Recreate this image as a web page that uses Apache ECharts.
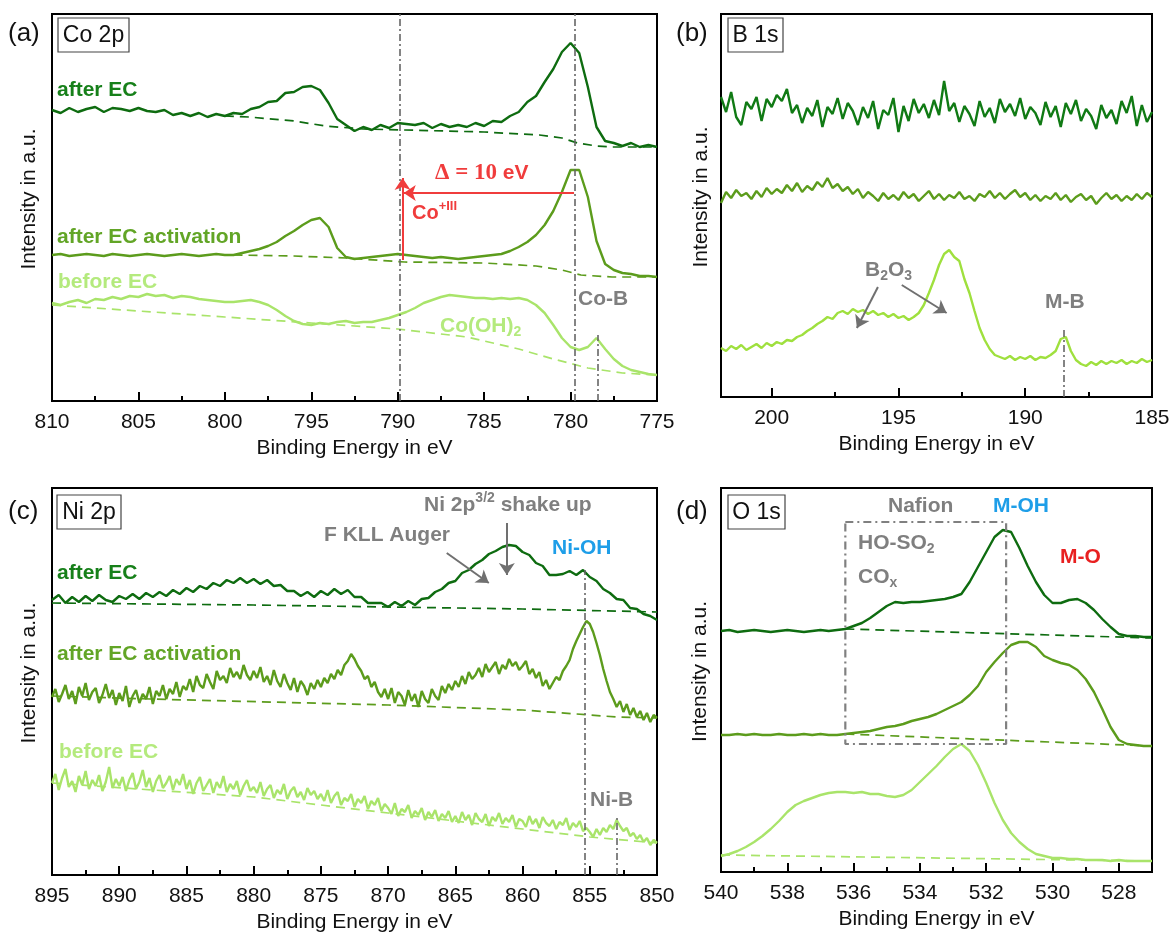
<!DOCTYPE html>
<html><head><meta charset="utf-8">
<script src="https://cdn.jsdelivr.net/npm/echarts@6/dist/echarts.min.js"></script>
<style>html,body{margin:0;padding:0;background:#fff}#c{width:1173px;height:935px}</style>
</head><body><div id="c"></div>
<script>
// ---------- Panel (a) Co 2p ----------
const aEnergy = [810,809.5,809,808.5,808,807.5,807,806.5,806,805.5,
 805,804.5,804,803.5,803,802.5,802,801.5,801,800.5,
 800,799.5,799,798.5,798,797.5,797,796.5,796,795.5,
 795,794.5,794,793.5,793,792.5,792,791.5,791,790.5,
 790,789.5,789,788.5,788,787.5,787,786.5,786,785.5,
 785,784.5,784,783.5,783,782.5,782,781.5,781,780.5,
 780,779.5,779,778.5,778,777.5,777,776.5,776,775.5,
 775];
const aAfterEC = [291,288,293,289,292,294,289,293,292,290,
 293,290,289,291,286,288,285,288,284,287,
 285,288,287,292,294,299,300,308,309,314,
 315,311,298,282,276,270,274,271,276,273,
 278,277,276,278,273,277,274,276,274,278,
 275,280,279,285,289,299,305,319,332,349,
 358,348,314,274,260,258,255,258,254,256,
 254];
const aActivation = [146,147,145,146,147,146,145,147,146,145,
 146,147,146,145,146,147,146,145,146,147,
 146,146,148,150,152,155,159,165,170,176,
 181,183,174,153,144,142,143,144,145,146,
 147,146,145,144,143,144,143,142,143,144,
 145,146,147,150,154,159,166,176,190,209,
 231,231,204,160,137,131,128,127,125,125,
 124];
const aBefore = [98,96,99,101,98,102,101,104,102,105,
 104,107,105,106,103,105,104,102,101,100,
 99,99,100,101,99,96,91,85,80,77,
 76,78,77,79,80,78,79,79,81,83,
 86,89,93,98,101,104,106,105,104,103,
 103,102,103,102,103,101,96,88,76,63,
 54,51,54,63,52,42,35,31,29,27,
 26];
const aBaseAfterEC = [[800,285],[798.6,284],[796,280],[794.2,275],[792,272],[789.6,271],[785,269],[781.8,266],[780.5,263],[779.6,258],[778.5,255],[777.6,254],[775,254]];
const aBaseActivation = [[799.5,146],[796,145],[793,143],[789.6,139],[785,138],[782,135],[780.5,131],[779.4,126],[777.6,124],[775,124]];
const aBaseBefore = [[810,96],[800,84],[795,78],[790,72],[786,64],[783,52],[781,42],[779,33],[777,28],[775,26]];
const aRefLines = [[789.9,0,387],[779.75,0,387],[778.4,0,66]];
const aRedArrows = [[779.8,208,789.65,208],[789.72,141,789.72,223]];
const aTicks = [775,780,785,790,795,800,805,810];
const aMinor = [777.5,782.5,787.5,792.5,797.5,802.5,807.5];

// ---------- Panel (b) B 1s ----------
const bEnergy = [202,201.8,201.6,201.4,201.2,201,200.8,200.6,200.4,200.2,
 200,199.8,199.6,199.4,199.2,199,198.8,198.6,198.4,198.2,
 198,197.8,197.6,197.4,197.2,197,196.8,196.6,196.4,196.2,
 196,195.8,195.6,195.4,195.2,195,194.8,194.6,194.4,194.2,
 194,193.8,193.6,193.4,193.2,193,192.8,192.6,192.4,192.2,
 192,191.8,191.6,191.4,191.2,191,190.8,190.6,190.4,190.2,
 190,189.8,189.6,189.4,189.2,189,188.8,188.6,188.4,188.2,
 188,187.8,187.6,187.4,187.2,187,186.8,186.6,186.4,186.2,
 186,185.8,185.6,185.4,185.2,185];
const bAfterEC = [300,285,305,280,272,295,288,300,276,298,
 290,302,296,308,284,292,274,289,281,297,
 270,290,283,299,278,294,286,272,290,279,
 296,268,287,282,299,265,291,276,298,284,
 293,279,297,282,316,286,294,275,291,283,
 271,296,280,289,274,298,285,293,281,299,
 278,290,284,272,295,280,291,270,294,283,
 297,276,288,281,268,292,279,287,273,296,
 284,301,271,292,275,285];
const bActivation = [194,205,199,207,201,204,198,206,200,209,
 203,208,204,212,206,214,205,211,207,215,
 210,219,209,213,206,210,203,208,199,205,
 201,196,204,198,202,197,205,199,203,196,
 201,206,198,203,197,202,199,205,198,201,
 196,203,200,206,199,204,198,203,207,200,
 204,197,202,196,201,198,204,197,202,195,
 200,203,197,201,193,199,204,198,202,196,
 201,197,203,198,204,200];
const bBefore = [49,46,51,48,52,47,50,53,49,54,
 51,55,53,57,56,60,62,66,69,73,
 76,80,78,84,86,83,88,85,87,83,
 86,82,84,80,83,79,81,77,80,84,
 92,104,117,132,143,147,140,136,118,104,
 86,69,57,48,42,40,38,41,37,40,
 38,41,37,40,39,42,46,58,60,46,
 37,33,31,35,32,36,33,36,34,37,
 33,36,34,38,35,37];
const bRefLines = [[188.5,0,67]];
const bArrows = [[195.81,110,196.64,69],[194.87,112,193.1,84]];
const bTicks = [185,190,195,200];
const bMinor = [187.5,192.5,197.5];

// ---------- Panel (c) Ni 2p ----------
const cEnergy = [895,894.5,894,893.5,893,892.5,892,891.5,891,890.5,
 890,889.5,889,888.5,888,887.5,887,886.5,886,885.5,
 885,884.5,884,883.5,883,882.5,882,881.5,881,880.5,
 880,879.5,879,878.5,878,877.5,877,876.5,876,875.5,
 875,874.5,874,873.5,873,872.5,872,871.5,871,870.5,
 870,869.5,869,868.5,868,867.5,867,866.5,866,865.5,
 865,864.5,864,863.5,863,862.5,862,861.5,861,860.5,
 860,859.5,859,858.5,858,857.5,857,856.5,856,855.5,
 855,854.5,854,853.5,853,852.5,852,851.5,851,850.5,
 850];
const cEnergyFine = [895,894.75,894.5,894.25,894,893.75,893.5,893.25,893,892.75,892.5,892.25,892,891.75,891.5,891.25,891,890.75,890.5,890.25,
 890,889.75,889.5,889.25,889,888.75,888.5,888.25,888,887.75,887.5,887.25,887,886.75,886.5,886.25,886,885.75,885.5,885.25,
 885,884.75,884.5,884.25,884,883.75,883.5,883.25,883,882.75,882.5,882.25,882,881.75,881.5,881.25,881,880.75,880.5,880.25,
 880,879.75,879.5,879.25,879,878.75,878.5,878.25,878,877.75,877.5,877.25,877,876.75,876.5,876.25,876,875.75,875.5,875.25,
 875,874.75,874.5,874.25,874,873.75,873.5,873.25,873,872.75,872.5,872.25,872,871.75,871.5,871.25,871,870.75,870.5,870.25,
 870,869.75,869.5,869.25,869,868.75,868.5,868.25,868,867.75,867.5,867.25,867,866.75,866.5,866.25,866,865.75,865.5,865.25,
 865,864.75,864.5,864.25,864,863.75,863.5,863.25,863,862.75,862.5,862.25,862,861.75,861.5,861.25,861,860.75,860.5,860.25,
 860,859.75,859.5,859.25,859,858.75,858.5,858.25,858,857.75,857.5,857.25,857,856.75,856.5,856.25,856,855.75,855.5,855.25,
 855,854.75,854.5,854.25,854,853.75,853.5,853.25,853,852.75,852.5,852.25,852,851.75,851.5,851.25,851,850.75,850.5,850.25,
 850];
const cAfterEC = [275,280,272,278,273,279,274,280,275,273,
 279,276,281,276,282,278,283,279,285,281,
 287,283,289,286,292,289,295,292,297,292,
 296,291,295,289,290,284,284,279,283,278,
 284,280,286,281,285,278,278,272,272,272,
 268,273,269,274,270,276,277,283,286,292,
 294,302,305,311,315,321,324,328,330,329,
 323,320,312,309,300,300,301,304,300,305,
 298,294,286,282,276,275,267,266,261,259,
 255];
const cActivation = [178,186,173,181,190,176,184,171,188,179,192,175,183,187,172,180,191,177,185,170,
 182,174,189,168,179,185,172,181,176,188,171,184,179,190,176,186,181,193,178,189,
 185,196,183,199,190,187,201,193,186,204,195,199,192,207,198,203,196,210,200,195,
 204,197,208,193,199,190,205,194,188,201,192,185,197,183,194,189,180,192,186,195,
 188,197,192,201,196,205,200,210,214,221,216,209,204,196,199,188,193,183,178,186,
 176,187,172,183,179,170,185,174,181,168,184,176,172,186,179,175,189,182,191,185,
 194,188,199,191,203,196,200,207,198,211,203,208,213,201,210,206,216,209,213,205,
 209,214,201,206,197,203,189,195,186,192,198,195,204,209,215,226,234,241,248,254,
 251,243,232,220,206,194,183,176,168,174,163,171,160,167,158,164,155,162,153,160,
 157];
const cBefore = [92,101,85,97,106,88,94,83,99,90,104,86,95,89,100,84,93,108,87,96,
 89,98,84,95,102,86,93,105,88,97,83,94,100,87,92,99,85,96,90,101,
 86,95,81,92,98,84,90,96,82,93,87,99,83,91,86,94,80,89,95,84,
 88,82,93,79,86,90,77,85,81,91,76,84,88,78,83,75,87,80,84,76,
 81,74,85,72,79,83,70,77,74,81,68,76,72,79,66,74,70,77,64,71,
 67,61,72,59,66,63,70,57,64,60,67,55,63,58,65,54,61,57,64,53,
 59,52,63,55,60,50,62,56,53,61,49,58,54,62,51,57,53,60,48,56,
 54,48,59,51,56,47,58,52,49,55,46,53,50,57,45,52,48,54,44,47,
 43,38,46,40,47,43,50,46,55,49,44,47,39,42,36,40,33,37,30,35,
 32];
const cBaseAfterEC = [[895,272],[880,270],[870,268],[860,266],[850,263]];
const cBaseActivation = [[895,179],[887.7,176],[870,170],[860,165],[853,158],[850,157]];
const cBaseBefore = [[895,92],[880,78],[870,62],[860,46],[855,38],[850,32]];
const cRefLines = [[855.35,0,305],[853.0,0,58]];
const cArrows = [[865.64,322,862.51,292],[861.17,352,861.17,300]];
const cTicks = [850,855,860,865,870,875,880,885,890,895];
const cMinor = [852.5,857.5,862.5,867.5,872.5,877.5,882.5,887.5,892.5];

// ---------- Panel (d) O 1s ----------
const dEnergy = [540,539.75,539.5,539.25,539,538.75,538.5,538.25,538,537.75,
 537.5,537.25,537,536.75,536.5,536.25,536,535.75,535.5,535.25,
 535,534.75,534.5,534.25,534,533.75,533.5,533.25,533,532.75,
 532.5,532.25,532,531.75,531.5,531.25,531,530.75,530.5,530.25,
 530,529.75,529.5,529.25,529,528.75,528.5,528.25,528,527.75,
 527.5,527.25,527];
const dAfterEC = [241,242,240,241,242,241,240,241,242,241,
 240,241,242,241,242,243,246,249,254,260,
 266,270,269,270,270,271,272,273,275,278,
 290,305,320,335,342,340,324,306,290,277,
 269,269,272,273,269,262,253,245,238,236,
 236,235,235];
const dActivation = [137,137,138,137,138,137,137,138,137,137,
 138,137,138,137,137,138,139,140,141,143,
 145,146,148,151,153,155,158,162,166,170,
 177,186,200,210,219,227,230,230,225,216,
 212,209,207,202,193,180,163,145,132,128,
 127,126,126];
const dBefore = [16,18,21,25,30,36,43,51,60,67,
 71,74,77,79,80,80,79,80,78,78,
 76,75,77,82,90,98,106,115,123,128,
 121,107,89,69,52,39,30,23,18,16,
 14,14,13,13,12,12,12,11,12,11,
 11,11,11];
const dBaseAfterEC = [[536.25,243],[527,234]];
const dBaseActivation = [[536.25,138],[527,126]];
const dBaseBefore = [[540,17],[527,11]];
const dRefLines = [[531.1,0,385],[529.1,0,385]];
const dNafionBox = [[536.25,350],[531.4,350],[531.4,128],[536.25,128],[536.25,350]];
const dTicks = [528,530,532,534,536,538,540];
const dMinor = [529,531,533,535,537,539];

// ---------- styling ----------
const FONT = '"Liberation Sans", Arial, Helvetica, sans-serif';
const C_DARK = '#0e6c10', C_MID = '#5c9c1c', C_LIGHT = '#a9e46a', C_LIME = '#9fe03e';
const L_DARK = '#17801a', L_MID = '#62a526', L_LIGHT = '#b4ea7d';
const GRAY = '#7f7f7f', BLUE = '#1e9ee8', RED = '#e82020', ARROW_RED = '#f03c3c';
const LW = 2.4;

const grids = [
  {left:52, top:14, width:605, height:387},
  {left:721, top:14, width:431, height:383},
  {left:52, top:488, width:605, height:387},
  {left:721, top:488, width:431, height:384}
].map(g => Object.assign({show:true, borderColor:'#000', borderWidth:2, backgroundColor:'transparent', containLabel:false, outerBoundsMode:'none'}, g));

function xMajor(g, min, max, ticks) {
  return {gridIndex:g, type:'value', position:'bottom', min, max, inverse:true,
    axisLine:{show:true, onZero:false, lineStyle:{color:'#000', width:2}},
    axisTick:{show:true, inside:true, length:9, customValues:ticks, lineStyle:{color:'#000', width:2}},
    axisLabel:{show:true, customValues:ticks, fontSize:21, color:'#111', fontFamily:FONT, margin:11},
    splitLine:{show:false}, minorTick:{show:false},
    name:'Binding Energy in eV', nameLocation:'middle', nameGap:37,
    nameTextStyle:{fontSize:21, color:'#111', fontFamily:FONT}};
}
function xMinorAx(g, min, max, ticks) {
  return {gridIndex:g, type:'value', position:'bottom', min, max, inverse:true,
    axisLine:{show:false},
    axisTick:{show:true, inside:true, length:5, customValues:ticks, lineStyle:{color:'#000', width:2}},
    axisLabel:{show:false}, splitLine:{show:false}};
}
function yAx(g, max, gap) {
  return {gridIndex:g, type:'value', min:0, max, show:true,
    axisLine:{show:false}, axisTick:{show:false}, axisLabel:{show:false}, splitLine:{show:false},
    name:'Intensity in a.u.', nameLocation:'middle', nameGap:gap,
    nameTextStyle:{fontSize:21, color:'#111', fontFamily:FONT, padding:[0,0,0,17]}};
}

function dataLine(g, E, V, color, w) {
  return {type:'line', xAxisIndex:g, yAxisIndex:g, data:E.map((e,i)=>[e,V[i]]),
    showSymbol:false, symbol:'none', silent:true, z:3,
    lineStyle:{color, width:w||LW}, itemStyle:{color}};
}
function baseLine(g, pts, color) {
  return {type:'line', xAxisIndex:g, yAxisIndex:g, data:pts, showSymbol:false, symbol:'none', silent:true, z:2,
    lineStyle:{color, width:1.7, type:[9,6]}, itemStyle:{color}};
}
function refLines(g, refs) {
  return {type:'line', xAxisIndex:g, yAxisIndex:g, data:[], silent:true, z:4,
    markLine:{silent:true, symbol:['none','none'], label:{show:false}, animation:false,
      lineStyle:{type:[7,3,2,3], color:'#666', width:1.6}, emphasis:{disabled:true},
      data:refs.map(r=>[{coord:[r[0],r[1]]},{coord:[r[0],r[2]]}])}};
}
function arrowLines(g, arr, color, w) {
  return {type:'line', xAxisIndex:g, yAxisIndex:g, data:[], silent:true, z:5,
    markLine:{silent:true, symbol:['none','arrow'], symbolSize:12, label:{show:false}, animation:false,
      lineStyle:{type:'solid', color, width:w||2}, emphasis:{disabled:true},
      data:arr.map(r=>[{coord:[r[0],r[1]]},{coord:[r[2],r[3]]}])}};
}

const series = [
  baseLine(0, aBaseAfterEC, C_DARK), baseLine(0, aBaseActivation, C_MID), baseLine(0, aBaseBefore, C_LIGHT),
  dataLine(0, aEnergy, aAfterEC, C_DARK), dataLine(0, aEnergy, aActivation, C_MID), dataLine(0, aEnergy, aBefore, C_LIGHT),
  refLines(0, aRefLines), arrowLines(0, aRedArrows, ARROW_RED, 2),

  dataLine(1, bEnergy, bAfterEC, '#107a14'), dataLine(1, bEnergy, bActivation, C_MID), dataLine(1, bEnergy, bBefore, C_LIME),
  refLines(1, bRefLines), arrowLines(1, bArrows, '#707070', 2),

  baseLine(2, cBaseAfterEC, C_DARK), baseLine(2, cBaseActivation, C_MID), baseLine(2, cBaseBefore, C_LIGHT),
  dataLine(2, cEnergy, cAfterEC, C_DARK), dataLine(2, cEnergyFine, cActivation, C_MID), dataLine(2, cEnergyFine, cBefore, C_LIGHT),
  refLines(2, cRefLines), arrowLines(2, cArrows, '#707070', 2),

  baseLine(3, dBaseAfterEC, C_DARK), baseLine(3, dBaseActivation, C_MID), baseLine(3, dBaseBefore, C_LIGHT),
  dataLine(3, dEnergy, dAfterEC, C_DARK), dataLine(3, dEnergy, dActivation, C_MID), dataLine(3, dEnergy, dBefore, C_LIGHT),
  refLines(3, dRefLines),
  {type:'line', xAxisIndex:3, yAxisIndex:3, data:dNafionBox, showSymbol:false, symbol:'none', silent:true, z:4,
    lineStyle:{color:'#808080', width:2.2, type:[8,4,2,4]}}
];

// ---------- text annotations ----------
function txt(x, y, text, color, size, weight, rich, family, align) {
  const st = {text, x:0, y:0, fill:color, font:(weight||'bold')+' '+(size||21)+'px '+(family||FONT),
    align:align||'left', verticalAlign:'middle', textAlign:align||'left', textVerticalAlign:'middle'};
  if (rich) st.rich = rich;
  return {type:'text', x, y, z:10, silent:true, style:st};
}
function richSet(color, size) {
  const sm = Math.round(size*0.66);
  return {
    m:{fontSize:size, fontWeight:'bold', fontFamily:FONT, fill:color, lineHeight:size+6},
    s:{fontSize:sm, fontWeight:'bold', fontFamily:FONT, fill:color, verticalAlign:'bottom'},
    p:{fontSize:sm, fontWeight:'bold', fontFamily:FONT, fill:color, verticalAlign:'top'}
  };
}
function box(x, y, w, h, label) {
  return [
    {type:'rect', z:9, silent:true, shape:{x, y, width:w, height:h}, style:{fill:'#fff', stroke:'#444', lineWidth:1.2}},
    txt(x + w/2, y + h/2 + 1, label, '#111', 23, 'normal', null, null, 'center')
  ];
}

const graphics = [].concat(
  [txt(8, 34, '(a)', '#111', 26, 'normal'), txt(676, 34, '(b)', '#111', 26, 'normal'),
   txt(8, 512, '(c)', '#111', 26, 'normal'), txt(676, 512, '(d)', '#111', 26, 'normal')],
  box(58, 18, 71, 34, 'Co 2p'), box(728, 18, 55, 34, 'B 1s'),
  box(57, 495, 64, 34, 'Ni 2p'), box(728, 495, 57, 34, 'O 1s'),
  [
    // (a)
    txt(57, 90, 'after EC', L_DARK), txt(57, 237, 'after EC activation', L_MID), txt(58, 282, 'before EC', L_LIGHT),
    txt(578, 299, 'Co-B', GRAY),
    txt(440, 326, '{m|Co(OH)}{s|2}', L_LIGHT, 21, 'bold', richSet(L_LIGHT, 21)),
    txt(435, 173, '{d|\u0394 = 10 }{e|eV}', ARROW_RED, 21, 'bold', {
      d:{fontFamily:'"Liberation Serif", "DejaVu Serif", serif', fontSize:23, fontWeight:'bold', fill:ARROW_RED},
      e:{fontFamily:FONT, fontSize:21, fontWeight:'bold', fill:ARROW_RED}}),
    txt(412, 213, '{m|Co}{p|+III}', ARROW_RED, 20, 'bold', richSet(ARROW_RED, 20)),
    // (b)
    txt(865, 270, '{m|B}{s|2}{m|O}{s|3}', GRAY, 21, 'bold', richSet(GRAY, 21)),
    txt(1045, 302, 'M-B', GRAY),
    // (c)
    txt(57, 573, 'after EC', L_DARK), txt(57, 654, 'after EC activation', L_MID), txt(59, 752, 'before EC', L_LIGHT),
    txt(324, 535, 'F KLL Auger', GRAY),
    txt(424, 505, '{m|Ni 2p}{p|3/2}{m| shake up}', GRAY, 21, 'bold', richSet(GRAY, 21)),
    txt(552, 548, 'Ni-OH', BLUE),
    txt(590, 800, 'Ni-B', GRAY),
    // (d)
    txt(888, 506, 'Nafion', GRAY),
    txt(993, 506, 'M-OH', BLUE),
    txt(858, 543, '{m|HO-SO}{s|2}', GRAY, 21, 'bold', richSet(GRAY, 21)),
    txt(858, 577, '{m|CO}{s|x}', GRAY, 21, 'bold', richSet(GRAY, 21)),
    txt(1060, 557, 'M-O', RED)
  ]
);

const option = {
  animation:false,
  backgroundColor:'#fff',
  textStyle:{fontFamily:FONT},
  grid:grids,
  xAxis:[
    xMajor(0, 775, 810, aTicks), xMajor(1, 185, 202, bTicks), xMajor(2, 850, 895, cTicks), xMajor(3, 527, 540, dTicks),
    xMinorAx(0, 775, 810, aMinor), xMinorAx(1, 185, 202, bMinor), xMinorAx(2, 850, 895, cMinor), xMinorAx(3, 527, 540, dMinor)
  ],
  yAxis:[yAx(0, 387, 12), yAx(1, 383, 9), yAx(2, 387, 12), yAx(3, 384, 10)],
  series,
  graphic:{elements:graphics}
};

const chart = echarts.init(document.getElementById('c'), null, {renderer:'canvas'});
chart.setOption(option);
</script></body></html>
